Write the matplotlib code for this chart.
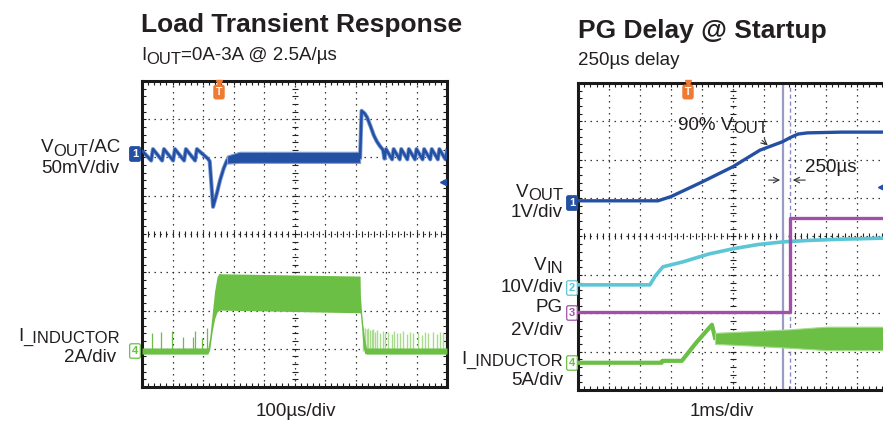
import numpy as np
import matplotlib
matplotlib.use('Agg')
import matplotlib.pyplot as plt
from matplotlib.ticker import MultipleLocator
from matplotlib.text import Annotation

plt.rcParams['font.family'] = ['Liberation Sans', 'DejaVu Sans']

# ---------------- data (divisions: x 0..10, y 0..8) ----------------
# Load transient: VOUT (AC, 50mV/div)
LT_VOUT_PRE_X = [0.00, 0.30, 0.36, 0.66, 0.72, 1.02, 1.08, 1.38, 1.44, 1.74, 1.80, 2.16,
                 2.22, 2.33, 2.45, 2.56, 2.68, 2.79, 2.95]
LT_VOUT_PRE_Y = [6.18, 5.92, 6.22, 5.92, 6.22, 5.92, 6.22, 5.92, 6.22, 5.92, 6.22, 5.97,
                 5.90, 4.71, 5.05, 5.41, 5.72, 5.93, 6.00]
LT_VOUT_BAND_X = [2.79, 3.20, 7.15]
LT_VOUT_BAND_HI = [6.05, 6.15, 6.15]
LT_VOUT_BAND_LO = [5.84, 5.86, 5.86]
LT_VOUT_POST_X = [7.15, 7.20, 7.30, 7.38, 7.50, 7.60, 7.70, 7.80, 7.90, 7.95, 8.00, 8.20, 8.25,
                  8.45, 8.50, 8.70, 8.75, 8.95, 9.00, 9.20, 9.25, 9.45, 9.50, 9.70, 9.75,
                  9.95, 10.0]
LT_VOUT_POST_Y = [6.00, 7.22, 7.15, 7.05, 6.80, 6.58, 6.42, 6.30, 6.20, 5.97, 6.22, 5.95, 6.22,
                  5.95, 6.22, 5.95, 6.22, 5.95, 6.22, 5.95, 6.22, 5.95, 6.22, 5.95, 6.22,
                  5.95, 6.18]
# Load transient: inductor current (2A/div)
LT_IL_X = [0.00, 2.16, 2.22, 2.30, 2.38, 2.46, 2.52, 2.60, 7.15, 7.16, 7.20, 7.25, 7.30, 7.36, 10.0]
LT_IL_HI = [1.02, 1.02, 1.30, 1.90, 2.50, 2.88, 2.97, 2.96, 2.90, 2.40, 1.95, 1.55, 1.25, 1.02, 1.02]
LT_IL_LO = [0.86, 0.86, 0.98, 1.45, 1.78, 1.96, 2.00, 2.01, 1.94, 1.90, 1.55, 1.05, 0.88, 0.86, 0.86]
LT_SPIKE_PRE_X = [0.33, 0.62, 0.98, 1.34, 1.67, 1.74, 1.97, 2.13]
LT_SPIKE_PRE_Y = [1.41, 1.44, 1.46, 1.31, 1.30, 1.46, 1.28, 1.54]
LT_SPIKE_POST_X = [7.26, 7.31, 7.37, 7.42, 7.48, 7.53, 7.58, 7.64, 7.69, 7.80, 7.89, 7.97, 8.08,
                   8.19, 8.26, 8.37, 8.46, 8.57, 8.68, 8.79, 8.90, 9.06, 9.17, 9.28, 9.39,
                   9.53, 9.66, 9.77, 9.88, 9.97]
LT_SPIKE_POST_Y = [1.57, 1.55, 1.52, 1.55, 1.50, 1.48, 1.52, 1.45, 1.50, 1.42, 1.47, 1.40, 1.45,
                   1.38, 1.47, 1.42, 1.40, 1.46, 1.38, 1.45, 1.40, 1.44, 1.37, 1.45, 1.40,
                   1.43, 1.38, 1.45, 1.41, 1.39]

# PG delay @ startup
PG_VOUT_X = [0.00, 2.58, 3.00, 4.00, 5.00, 5.87, 6.60, 6.85, 7.10, 7.40, 8.50, 10.0]
PG_VOUT_Y = [4.93, 4.93, 5.04, 5.42, 5.82, 6.25, 6.47, 6.58, 6.67, 6.70, 6.72, 6.72]
PG_VIN_X = [0.00, 2.32, 2.50, 2.74, 3.39, 4.20, 5.00, 5.80, 6.61, 7.50, 8.50, 10.0]
PG_VIN_Y = [2.74, 2.74, 2.98, 3.21, 3.34, 3.54, 3.68, 3.79, 3.86, 3.90, 3.93, 3.96]
PG_PG_X = [0.00, 6.84, 6.84, 10.0]
PG_PG_Y = [2.04, 2.04, 4.48, 4.48]
PG_IL_X = [0.00, 2.70, 2.72, 3.35, 3.80, 4.32, 4.42]
PG_IL_Y = [0.71, 0.71, 0.76, 0.76, 1.22, 1.70, 1.36]
PG_IL_BAND_X = [4.42, 5.50, 6.80, 8.00, 10.0]
PG_IL_BAND_HI = [1.49, 1.53, 1.58, 1.65, 1.65]
PG_IL_BAND_LO = [1.20, 1.16, 1.10, 1.04, 1.04]
CURSOR_SOLID = 6.61
CURSOR_DASH = 6.84

C_VOUT = '#2350a3'
C_VOUT_L = '#7d9bd6'
C_VIN = '#5cc6d6'
C_PG = '#a24fa8'
C_IL = '#6cbf45'
C_IL_L = '#a8dc8c'
C_TRIG = '#f07a32'
TXT = '#231f20'
FS = 13.5
FS_SUB = 12

W, H = 883, 423
fig = plt.figure(figsize=(W / 100, H / 100), dpi=100)


def fx(px):
    return px / W


def fy(py):
    return 1 - py / H


def make_scope(l, t, r, b):
    ax = fig.add_axes([fx(l), fy(b), (r - l) / W, (b - t) / H])
    ax.set_xlim(0, 10)
    ax.set_ylim(0, 8)
    for s in ax.spines.values():
        s.set_linewidth(2.2)
        s.set_color('#1a1a1a')
    ax.xaxis.set_major_locator(MultipleLocator(1))
    ax.yaxis.set_major_locator(MultipleLocator(1))
    ax.xaxis.set_minor_locator(MultipleLocator(0.2))
    ax.yaxis.set_minor_locator(MultipleLocator(0.2))
    ax.tick_params(which='both', direction='in', length=3, width=0.8, color='#1a1a1a',
                   top=True, right=True, labelbottom=False, labelleft=False)
    for v in range(1, 10):
        ax.axvline(v, color='#222222', lw=0.9, ls=(0, (1.1, 3.7)), zorder=1)
    for v in range(1, 8):
        ax.axhline(v, color='#222222', lw=0.9, ls=(0, (1.1, 3.7)), zorder=1)
    xs = np.arange(0.2, 10, 0.2)
    ys = np.arange(0.2, 8, 0.2)
    ax.plot(xs, np.full_like(xs, 4.0), ls='none', marker='|', ms=4.5, mew=0.8,
            color='#222222', zorder=1)
    ax.plot(np.full_like(ys, 5.0), ys, ls='none', marker='_', ms=4.5, mew=0.8,
            color='#222222', zorder=1)
    return ax


# ---------------- left scope ----------------
axL = make_scope(142, 81, 447, 387)
axL.plot(LT_VOUT_PRE_X, LT_VOUT_PRE_Y, color=C_VOUT_L, lw=3.0, zorder=2)
axL.plot(LT_VOUT_PRE_X, LT_VOUT_PRE_Y, color=C_VOUT, lw=1.8, zorder=3)
axL.fill_between(LT_VOUT_BAND_X, LT_VOUT_BAND_LO, LT_VOUT_BAND_HI, color=C_VOUT, lw=0.8,
                 edgecolor=C_VOUT_L, zorder=3)
axL.plot(LT_VOUT_POST_X, LT_VOUT_POST_Y, color=C_VOUT_L, lw=3.0, zorder=2)
axL.plot(LT_VOUT_POST_X, LT_VOUT_POST_Y, color=C_VOUT, lw=1.8, zorder=3)
axL.vlines(LT_SPIKE_PRE_X, 0.93, LT_SPIKE_PRE_Y, color=C_IL, lw=0.9, zorder=2)
axL.vlines(LT_SPIKE_POST_X, 0.93, LT_SPIKE_POST_Y, color=C_IL_L, lw=1.0, zorder=2)
axL.fill_between(LT_IL_X, LT_IL_LO, LT_IL_HI, color=C_IL, lw=0, zorder=3)
axL.plot([9.87], [5.36], marker='<', ms=5, color=C_VOUT, clip_on=False, zorder=4)

# ---------------- right scope ----------------
axR = make_scope(578, 83, 888, 390)
axR.axvline(CURSOR_SOLID, color='#9a9cc6', lw=1.6, zorder=2)
axR.axvline(CURSOR_DASH, color='#8c8cc8', lw=1.0, ls=(0, (3, 2)), zorder=2)
axR.plot(PG_VOUT_X, PG_VOUT_Y, color=C_VOUT, lw=2.4, zorder=3)
axR.plot(PG_VIN_X, PG_VIN_Y, color=C_VIN, lw=2.6, zorder=3)
axR.plot(PG_PG_X, PG_PG_Y, color=C_PG, lw=2.4, zorder=3)
axR.plot(PG_IL_X, PG_IL_Y, color=C_IL, lw=3.0, zorder=3)
axR.fill_between(PG_IL_BAND_X, PG_IL_BAND_LO, PG_IL_BAND_HI, color=C_IL, lw=0.8,
                 edgecolor=C_IL_L, zorder=3)
axR.plot([9.77], [5.29], marker='<', ms=5, color=C_VOUT, clip_on=False, zorder=4)

# annotations in right scope
axR.annotate('', xy=(CURSOR_SOLID, 5.47), xytext=(6.06, 5.47),
             arrowprops=dict(arrowstyle='->', color='#333333', lw=0.8))
axR.annotate('', xy=(CURSOR_DASH, 5.47), xytext=(7.42, 5.47),
             arrowprops=dict(arrowstyle='->', color='#333333', lw=0.8))
axR.annotate('', xy=(6.19, 6.33), xytext=(5.87, 6.55),
             arrowprops=dict(arrowstyle='->', color='#333333', lw=0.8))
axR.text(7.32, 5.68, '250µs', fontsize=FS, color=TXT, va='baseline', zorder=5)


# ---------------- text helpers (with subscripts) ----------------
def _follow(prev, text, size, ypx, side):
    a = Annotation(text, xy=(1 if side == 'left' else 0, fy(ypx)),
                   xycoords=(prev, fig.transFigure), fontsize=size, color=TXT,
                   ha=side, va='baseline', annotation_clip=False, zorder=6)
    fig.add_artist(a)
    return a


def seq_left(x, y, parts):
    """parts: list of (text, fontsize, dy_px), laid out left to right from x."""
    prev = None
    for text, size, dy in parts:
        if prev is None:
            prev = fig.text(fx(x), fy(y + dy), text, fontsize=size, color=TXT,
                            ha='left', va='baseline', zorder=6)
        else:
            prev = _follow(prev, text, size, y + dy, 'left')


def seq_right(x, y, parts):
    """parts: list of (text, fontsize, dy_px), right-aligned at x."""
    prev = None
    for text, size, dy in reversed(parts):
        if prev is None:
            prev = fig.text(fx(x), fy(y + dy), text, fontsize=size, color=TXT,
                            ha='right', va='baseline', zorder=6)
        else:
            prev = _follow(prev, text, size, y + dy, 'right')


fig.text(fx(141), fy(32), 'Load Transient Response', fontsize=19, fontweight='bold',
         color=TXT, va='baseline')
seq_left(141, 60, [('I', FS, 0), ('OUT', FS_SUB, 4), ('=0A-3A @ 2.5A/µs', FS, 0)])
fig.text(fx(578), fy(38), 'PG Delay @ Startup', fontsize=19, fontweight='bold',
         color=TXT, va='baseline')
fig.text(fx(578), fy(65), '250µs delay', fontsize=FS, color=TXT, va='baseline')
seq_left(678, 130, [('90% V', FS, 0), ('OUT', FS_SUB, 3)])

seq_right(120, 152, [('V', FS, 0), ('OUT', FS_SUB, 4), ('/AC', FS, 0)])
fig.text(fx(119), fy(173), '50mV/div', fontsize=FS, color=TXT, ha='right', va='baseline')
seq_right(120, 341, [('I', FS, 0), ('_INDUCTOR', FS_SUB, 2)])
fig.text(fx(116), fy(362), '2A/div', fontsize=FS, color=TXT, ha='right', va='baseline')
fig.text(fx(296), fy(416), '100µs/div', fontsize=FS, color=TXT, ha='center', va='baseline')

seq_right(563, 197, [('V', FS, 0), ('OUT', FS_SUB, 3)])
fig.text(fx(563), fy(217), '1V/div', fontsize=FS, color=TXT, ha='right', va='baseline')
seq_right(563, 270, [('V', FS, 0), ('IN', FS_SUB, 3)])
fig.text(fx(563), fy(292), '10V/div', fontsize=FS, color=TXT, ha='right', va='baseline')
fig.text(fx(563), fy(312), 'PG', fontsize=FS, color=TXT, ha='right', va='baseline')
fig.text(fx(563), fy(335), '2V/div', fontsize=FS, color=TXT, ha='right', va='baseline')
seq_right(563, 364, [('I', FS, 0), ('_INDUCTOR', FS_SUB, 2)])
fig.text(fx(563), fy(385), '5A/div', fontsize=FS, color=TXT, ha='right', va='baseline')
fig.text(fx(722), fy(416), '1ms/div', fontsize=FS, color=TXT, ha='center', va='baseline')


# channel markers
def chan(xc, yc, label, color, filled):
    fig.text(fx(xc), fy(yc), label, fontsize=8, ha='center', va='center',
             color='white' if filled else color, fontweight='bold',
             bbox=dict(boxstyle='round,pad=0.2,rounding_size=0.15',
                       fc=color if filled else 'white', ec=color, lw=0.9))


chan(135, 154, '1', C_VOUT, True)
chan(135, 351, '4', C_IL, False)
chan(572, 203, '1', C_VOUT, True)
chan(572, 288, '2', C_VIN, False)
chan(572, 313, '3', C_PG, False)
chan(572, 363, '4', C_IL, False)


# trigger markers
def trig(xc):
    fig.text(fx(xc), fy(92), 'T', fontsize=7.5, ha='center', va='center', color='white',
             fontweight='bold', bbox=dict(boxstyle='round,pad=0.2', fc=C_TRIG, ec=C_TRIG, lw=0.5))
    fig.add_artist(plt.Line2D([fx(xc)], [fy(83)], marker='v', ms=5, color=C_TRIG,
                              transform=fig.transFigure))


trig(219)
trig(688)

fig.savefig('out.png', dpi=100)
